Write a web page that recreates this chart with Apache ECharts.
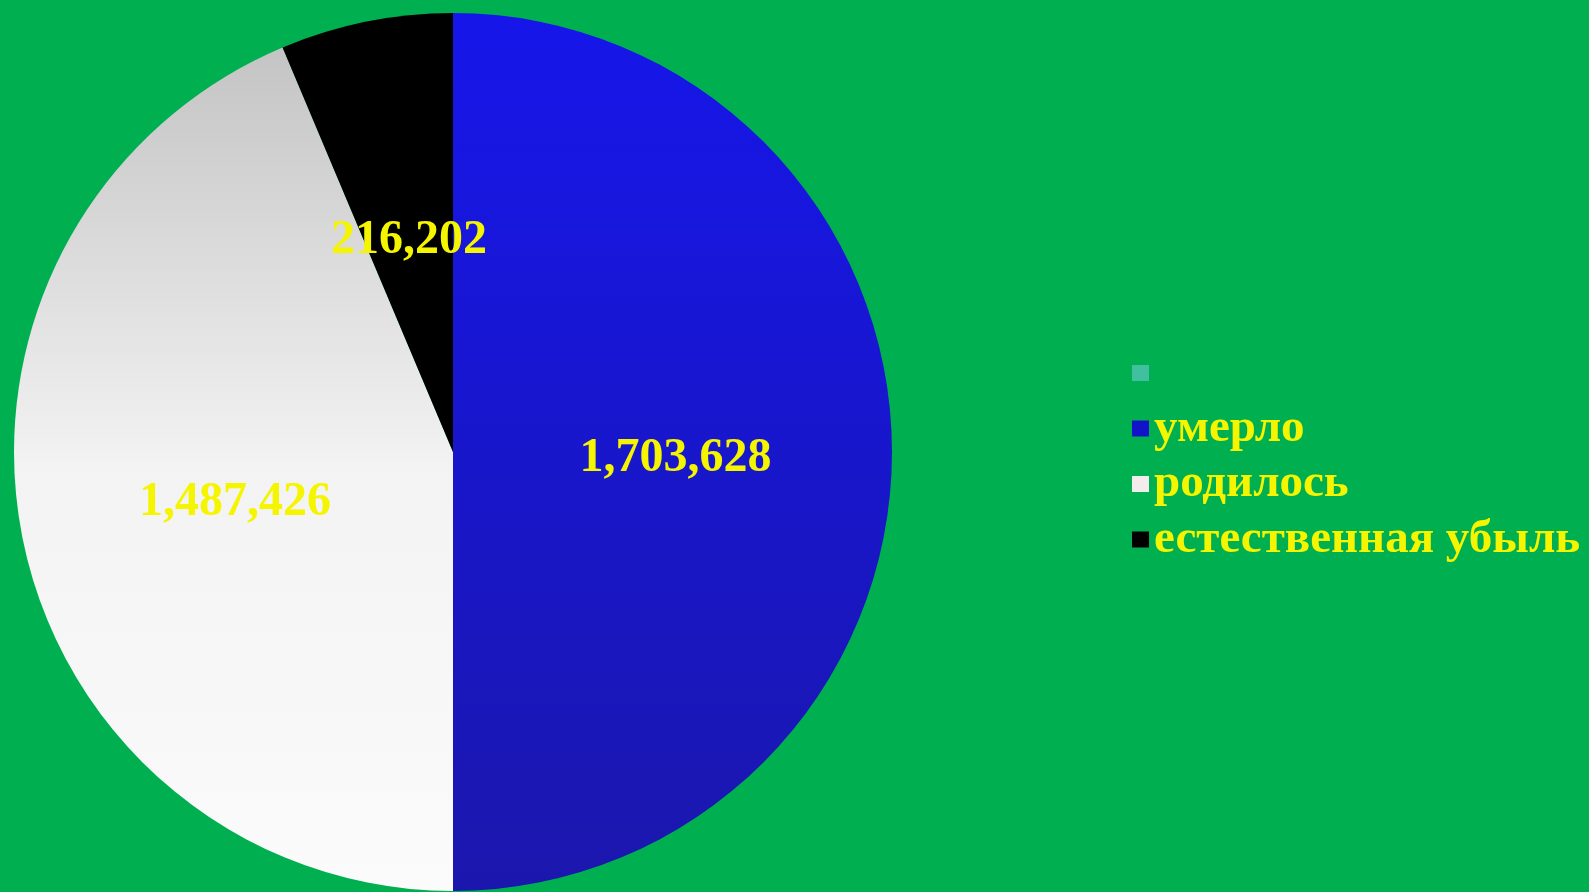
<!DOCTYPE html>
<html>
<head>
<meta charset="utf-8">
<script src="https://cdn.jsdelivr.net/npm/echarts@6/dist/echarts.min.js"></script>
<style>
html,body{margin:0;padding:0;background:#00b050;}
#chart{width:1589px;height:892px;}
</style>
</head>
<body>
<div id="chart"></div>
<script>
var categories = [' ', 'умерло', 'родилось', 'естественная убыль'];
var values = [0, 1703628, 1487426, 216202];
var colors = [
  '#3fbf9f',
  {type:'linear',x:0,y:0,x2:0,y2:1,colorStops:[{offset:0,color:'#1616ea'},{offset:1,color:'#1b17ad'}]},
  {type:'linear',x:0,y:0,x2:0,y2:1,colorStops:[{offset:0,color:'#c4c4c4'},{offset:0.5,color:'#f3f3f3'},{offset:1,color:'#fbfbfb'}]},
  '#000000'
];
var legendColors = ['#40c0a0', '#1212c8', '#f2ecec', '#000000'];

var data = categories.map(function(c, i){
  return {
    name: c,
    value: values[i],
    itemStyle: {color: colors[i]},
    label: {show: values[i] > 0}
  };
});

var chart = echarts.init(document.getElementById('chart'), null, {renderer:'canvas'});
chart.setOption({
  backgroundColor: '#00b050',
  animation: false,
  legend: {
    orient: 'vertical',
    left: 1127,
    top: 338,
    itemWidth: 17,
    itemHeight: 16,
    itemGap: -4.5,
    icon: 'rect',
    data: categories.map(function(c, i){ return {name: c, itemStyle: {color: legendColors[i]}}; }),
    textStyle: {
      color: '#f5f500',
      fontFamily: 'Liberation Serif',
      fontWeight: 'bold',
      fontSize: 47,
      lineHeight: 48,
      padding: [12,0,0,0]
    }
  },
  series: [{
    type: 'pie',
    center: [453, 452],
    radius: 439,
    startAngle: 90,
    clockwise: true,
    avoidLabelOverlap: false,
    data: data,
    itemStyle: {borderWidth: 0},
    label: {
      position: 'inside',
      formatter: function(p){ return p.value.toLocaleString('en-US'); },
      color: '#f5f500',
      fontFamily: 'Liberation Serif',
      fontWeight: 'bold',
      fontSize: 48,
      textBorderWidth: 0,
      offset: [0, 7]
    },
    labelLine: {show: false},
    emphasis: {disabled: true}
  }]
});
</script>
</body>
</html>
